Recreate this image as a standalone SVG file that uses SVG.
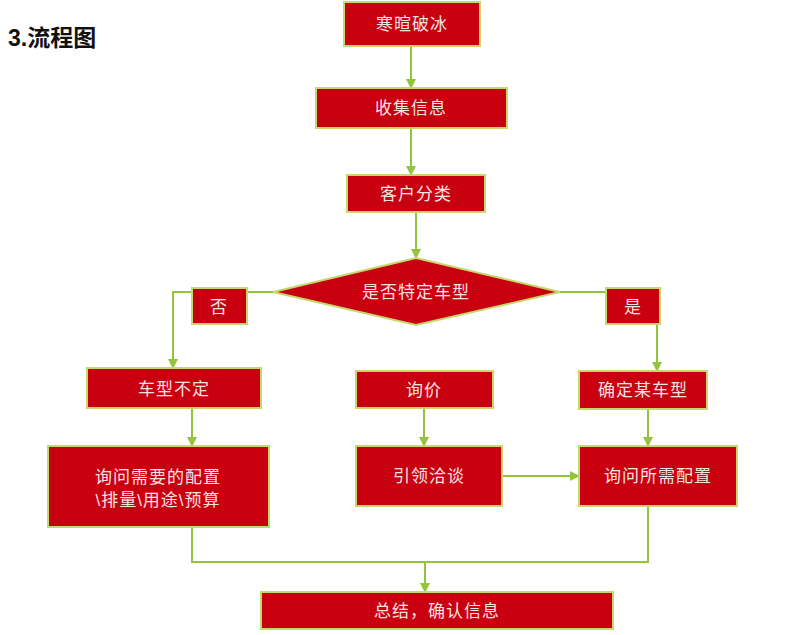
<svg xmlns="http://www.w3.org/2000/svg" width="800" height="635" viewBox="0 0 800 635">
<defs>
<style>
.n{fill:#c8000f;stroke:#c5d86e;stroke-width:2}
.t{fill:#f8e2e2;font-family:"Liberation Sans","Noto Sans CJK SC",sans-serif;font-size:17px;letter-spacing:1px;text-anchor:middle;dominant-baseline:central}
.c{fill:none;stroke:#92c43c;stroke-width:2}
</style>
<marker id="a" markerWidth="10" markerHeight="10" refX="8" refY="5" orient="auto" markerUnits="userSpaceOnUse">
<path d="M0,0 L10,5 L0,10 Z" fill="#92c43c"/>
</marker>
</defs>
<rect width="800" height="635" fill="#fff"/>
<text x="8" y="46" font-family="Liberation Sans,'Noto Sans CJK SC',sans-serif" font-size="23" font-weight="bold" fill="#111">3.流程图</text>
<g id="connectors">
<path class="c" d="M411,47 V87" marker-end="url(#a)"/>
<path class="c" d="M411,128 V174" marker-end="url(#a)"/>
<path class="c" d="M416,212 V257" marker-end="url(#a)"/>
<path class="c" d="M273,292 H173 V367" marker-end="url(#a)"/>
<path class="c" d="M560,292 H657 V370" marker-end="url(#a)"/>
<path class="c" d="M192,408 V445" marker-end="url(#a)"/>
<path class="c" d="M424,408 V445" marker-end="url(#a)"/>
<path class="c" d="M648,409 V445" marker-end="url(#a)"/>
<path class="c" d="M502,476 H578" marker-end="url(#a)"/>
<path class="c" d="M192,527 V562 H648 V507"/>
<path class="c" d="M425,562 V591" marker-end="url(#a)"/>
</g>
<g id="n1"><rect class="n" x="344" y="2" width="136" height="44"/><text class="t" x="412" y="24">寒暄破冰</text></g>
<g id="n2"><rect class="n" x="316" y="88" width="191" height="40"/><text class="t" x="411" y="108">收集信息</text></g>
<g id="n3"><rect class="n" x="347" y="175" width="138" height="37"/><text class="t" x="416" y="194">客户分类</text></g>
<g id="n4"><polygon class="n" points="416,258 560,292 416,325 273,292"/><text class="t" x="416" y="292">是否特定车型</text></g>
<g id="l_no"><rect class="n" x="192" y="288" width="55" height="36"/><text class="t" x="219" y="307">否</text></g>
<g id="l_yes"><rect class="n" x="606" y="288" width="54" height="36"/><text class="t" x="633" y="307">是</text></g>
<g id="n5"><rect class="n" x="87" y="368" width="174" height="40"/><text class="t" x="174" y="389">车型不定</text></g>
<g id="n6"><rect class="n" x="356" y="371" width="137" height="37"/><text class="t" x="424" y="390">询价</text></g>
<g id="n7"><rect class="n" x="579" y="371" width="128" height="38"/><text class="t" x="643" y="390">确定某车型</text></g>
<g id="n8"><rect class="n" x="48" y="446" width="221" height="81"/><text class="t" x="158" y="477">询问需要的配置</text><text class="t" x="158" y="500">\排量\用途\预算</text></g>
<g id="n9"><rect class="n" x="356" y="446" width="146" height="60"/><text class="t" x="429" y="476">引领洽谈</text></g>
<g id="n10"><rect class="n" x="579" y="446" width="158" height="60"/><text class="t" x="658" y="476">询问所需配置</text></g>
<g id="n11"><rect class="n" x="261" y="592" width="352" height="37"/><text class="t" x="437" y="611">总结，确认信息</text></g>
</svg>
